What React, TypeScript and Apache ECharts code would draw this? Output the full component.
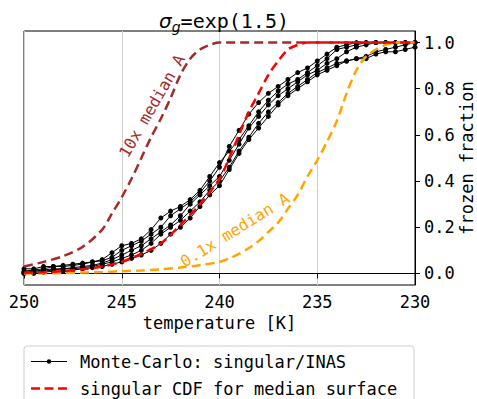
import React, { useEffect, useRef } from "react";
import * as echarts from "echarts";

// Monte-Carlo temperatures (K)
const mcTemps = [250, 249.5, 249, 248.5, 248, 247.5, 247, 246.5, 246, 245.5, 245, 244.5, 244, 243.5, 243, 242.5, 242, 241.5, 241, 240.5, 240, 239.5, 239, 238.5, 238, 237.5, 237, 236.5, 236, 235.5, 235, 234.5, 234, 233.5, 233, 232.5, 232, 231.5, 231, 230.5, 230];
const mc1 = [0.02, 0.02, 0.03, 0.03, 0.035, 0.04, 0.045, 0.05, 0.06, 0.09, 0.12, 0.13, 0.15, 0.19, 0.24, 0.27, 0.29, 0.32, 0.36, 0.42, 0.48, 0.53, 0.58, 0.64, 0.7, 0.75, 0.79, 0.82, 0.84, 0.87, 0.9, 0.93, 0.97, 0.98, 0.99, 1.0, 1.0, 1.0, 1.0, 1.0, 1.0];
const mc2 = [0.01, 0.015, 0.02, 0.03, 0.03, 0.035, 0.04, 0.05, 0.055, 0.07, 0.1, 0.12, 0.14, 0.17, 0.2, 0.25, 0.28, 0.31, 0.35, 0.4, 0.46, 0.55, 0.62, 0.69, 0.74, 0.78, 0.81, 0.84, 0.87, 0.89, 0.92, 0.95, 0.98, 0.99, 1.0, 1.0, 1.0, 1.0, 1.0, 1.0, 1.0];
const mc3 = [0.005, 0.01, 0.015, 0.02, 0.02, 0.025, 0.03, 0.035, 0.045, 0.06, 0.08, 0.1, 0.12, 0.15, 0.18, 0.21, 0.25, 0.3, 0.34, 0.38, 0.42, 0.49, 0.56, 0.63, 0.68, 0.73, 0.77, 0.8, 0.83, 0.86, 0.88, 0.91, 0.93, 0.96, 0.98, 0.99, 1.0, 1.0, 1.0, 1.0, 1.0];
const mc4 = [0.0, 0.005, 0.01, 0.015, 0.02, 0.02, 0.025, 0.03, 0.04, 0.05, 0.065, 0.08, 0.1, 0.13, 0.17, 0.2, 0.23, 0.27, 0.31, 0.36, 0.4, 0.46, 0.53, 0.59, 0.65, 0.7, 0.74, 0.78, 0.81, 0.84, 0.87, 0.89, 0.91, 0.92, 0.93, 0.94, 0.96, 0.97, 0.98, 0.99, 1.0];
const mc5 = [0.0, 0.0, 0.005, 0.01, 0.01, 0.015, 0.02, 0.025, 0.03, 0.04, 0.05, 0.065, 0.08, 0.1, 0.13, 0.17, 0.2, 0.24, 0.29, 0.34, 0.38, 0.45, 0.52, 0.58, 0.63, 0.68, 0.73, 0.77, 0.8, 0.83, 0.86, 0.88, 0.9, 0.92, 0.93, 0.93, 0.95, 0.96, 0.96, 0.97, 0.98];

// singular CDF for median surface
const medianT = [250, 249, 248, 247, 246, 245, 244, 243, 242, 241, 240, 239.5, 239, 238.5, 238, 237.5, 237, 236.5, 236, 235.5, 230];
const medianF = [0.003, 0.005, 0.01, 0.018, 0.03, 0.05, 0.085, 0.13, 0.21, 0.3, 0.41, 0.5, 0.6, 0.7, 0.78, 0.86, 0.92, 0.97, 0.99, 1.0, 1.0];

// 10x median A
const tenXT = [250, 249, 248, 247, 246, 245.5, 245, 244.5, 244, 243.5, 243, 242.5, 242, 241.5, 241, 240.5, 240, 230];
const tenXF = [0.03, 0.05, 0.075, 0.115, 0.19, 0.26, 0.33, 0.41, 0.5, 0.59, 0.67, 0.76, 0.86, 0.93, 0.97, 0.99, 1.0, 1.0];

// 0.1x median A
const tenthT = [250, 248, 246, 245, 244, 243, 242, 241, 240, 239.5, 239, 238.5, 238, 237.5, 237, 236.5, 236, 235.5, 235, 234.5, 234, 233.5, 233, 232.5, 232, 231.5, 231, 230];
const tenthF = [0.0, 0.002, 0.006, 0.01, 0.013, 0.018, 0.026, 0.036, 0.05, 0.065, 0.085, 0.11, 0.14, 0.18, 0.22, 0.28, 0.34, 0.42, 0.49, 0.57, 0.66, 0.78, 0.88, 0.94, 0.97, 0.99, 1.0, 1.0];

const xTicks = [250, 245, 240, 235, 230];
const yTicks = [0.0, 0.2, 0.4, 0.6, 0.8, 1.0];

const MC_NAME = "Monte-Carlo: singular/INAS";
const MED_NAME = "singular CDF for median surface";
const MONO = "'DejaVu Sans Mono', monospace";

// legend handles (36 x 14 box; tiny corner marks fix the bounding box)
const CORNERS = "M0,0 L0.01,0 L0,0.01 Z M36,14 L35.99,14 L36,13.99 Z ";
const MC_ICON = "path://" + CORNERS + "M0,6.5 L36,6.5 L36,7.5 L0,7.5 Z M20.2,7 A2.2,2.2 0 1,1 15.8,7 A2.2,2.2 0 1,1 20.2,7 Z";
const DASH_ICON = "path://" + CORNERS + "M0,5.7 L9,5.7 L9,8.3 L0,8.3 Z M13.5,5.7 L22.5,5.7 L22.5,8.3 L13.5,8.3 Z M27,5.7 L36,5.7 L36,8.3 L27,8.3 Z";

const zip = (xs: number[], ys: number[]) => xs.map((x, i) => [x, ys[i]]);

export default function App() {
  const ref = useRef<HTMLDivElement>(null);
  useEffect(() => {
    if (!ref.current) return;
    const chart = echarts.init(ref.current, undefined, { renderer: "svg" });
    const mcSeries = [mc1, mc2, mc3, mc4, mc5].map((vals) => ({
      type: "line",
      name: MC_NAME,
      data: zip(mcTemps, vals),
      symbol: "circle",
      symbolSize: 5,
      showSymbol: true,
      itemStyle: { color: "#000000" },
      lineStyle: { color: "#000000", width: 1 },
      z: 3,
    }));
    const dashed = (name: string, xs: number[], ys: number[], color: string, z: number) => ({
      type: "line",
      name,
      data: zip(xs, ys),
      smooth: 0.3,
      symbol: "none",
      showSymbol: false,
      itemStyle: { color },
      lineStyle: { color, width: 2.5, type: [9, 5] },
      z,
    });
    chart.setOption({
      animation: false,
      backgroundColor: "#ffffff",
      title: {
        text: "{s|σ}{g|g}{t|=exp(1.5)}",
        left: 219,
        textAlign: "center",
        top: 2,
        textStyle: {
          fontWeight: "normal",
          rich: {
            s: { fontSize: 20, fontStyle: "italic", fontWeight: "normal", fontFamily: "'DejaVu Sans'", color: "#000", lineHeight: 28 },
            g: { fontSize: 14, fontStyle: "italic", fontWeight: "normal", fontFamily: "'DejaVu Sans'", color: "#000", padding: [12, 0, 0, 0], lineHeight: 28 },
            t: { fontSize: 20, fontWeight: "normal", fontFamily: MONO, color: "#000", lineHeight: 28 },
          },
        },
      },
      grid: {
        left: 24,
        right: 62,
        top: 31,
        bottom: 114,
        show: true,
        borderColor: "#000",
        borderWidth: 1,
        containLabel: false,
        outerBoundsMode: "none",
      },
      legend: {
        data: [
          { name: MC_NAME, icon: MC_ICON, itemStyle: { color: "#000" } },
          { name: MED_NAME, icon: DASH_ICON, itemStyle: { color: "#ff0000" } },
        ],
        orient: "vertical",
        left: 31,
        top: 353,
        itemWidth: 36,
        itemHeight: 14,
        itemGap: 10,
        padding: 0,
        textStyle: { fontFamily: MONO, fontSize: 17, color: "#000", padding: [0, 0, 0, 8], lineHeight: 17 },
      },
      xAxis: {
        type: "value",
        min: 230,
        max: 250,
        interval: 5,
        inverse: true,
        name: "temperature [K]",
        nameLocation: "middle",
        nameGap: 29,
        nameTextStyle: { fontFamily: MONO, fontSize: 17, color: "#000" },
        axisLine: { show: true, lineStyle: { color: "#000", width: 1 } },
        axisTick: { show: true, inside: false, length: 5, lineStyle: { color: "#000" } },
        axisLabel: {
          fontFamily: MONO,
          fontSize: 17,
          color: "#000",
          margin: 8,
          formatter: (v: number) => (xTicks.includes(v) ? String(v) : ""),
        },
        splitLine: { show: true, lineStyle: { color: "#d0d0d0", width: 1 } },
      },
      yAxis: {
        type: "value",
        position: "right",
        min: -0.05,
        max: 1.05,
        axisLine: { show: true, lineStyle: { color: "#000", width: 1 } },
        axisTick: { show: true, inside: false, length: 5, customValues: yTicks, lineStyle: { color: "#000" } },
        axisLabel: {
          fontFamily: MONO,
          fontSize: 17,
          color: "#000",
          margin: 9,
          customValues: yTicks,
          formatter: (v: number) => v.toFixed(1),
        },
        splitLine: { show: false },
      },
      graphic: [
        {
          type: "rect",
          shape: { x: 24, y: 346, width: 390, height: 80, r: 3 },
          style: { fill: "none", stroke: "#cccccc", lineWidth: 1 },
          z: 1,
        },
        {
          type: "text",
          x: 467,
          y: 158,
          rotation: Math.PI / 2,
          style: {
            text: "frozen fraction",
            fontFamily: MONO,
            fontSize: 17,
            fill: "#000",
            align: "center",
            verticalAlign: "middle",
          },
          z: 10,
        },
        {
          type: "text",
          x: 152,
          y: 106,
          rotation: (60 * Math.PI) / 180,
          style: {
            text: "10x median A",
            fontFamily: MONO,
            fontSize: 16,
            fill: "#a52a2a",
            align: "center",
            verticalAlign: "middle",
          },
          z: 10,
        },
        {
          type: "text",
          x: 235,
          y: 230,
          rotation: (32 * Math.PI) / 180,
          style: {
            text: "0.1x median A",
            fontFamily: MONO,
            fontSize: 16,
            fill: "#ffa500",
            align: "center",
            verticalAlign: "middle",
          },
          z: 10,
        },
      ],
      series: [
        ...mcSeries,
        dashed(MED_NAME, medianT, medianF, "#ff0000", 5),
        dashed("10x median A", tenXT, tenXF, "#a52a2a", 4),
        dashed("0.1x median A", tenthT, tenthF, "#ffa500", 4),
      ],
    });
    return () => chart.dispose();
  }, []);
  return <div ref={ref} style={{ position: "fixed", left: 0, top: 0, width: 477, height: 399 }} />;
}
